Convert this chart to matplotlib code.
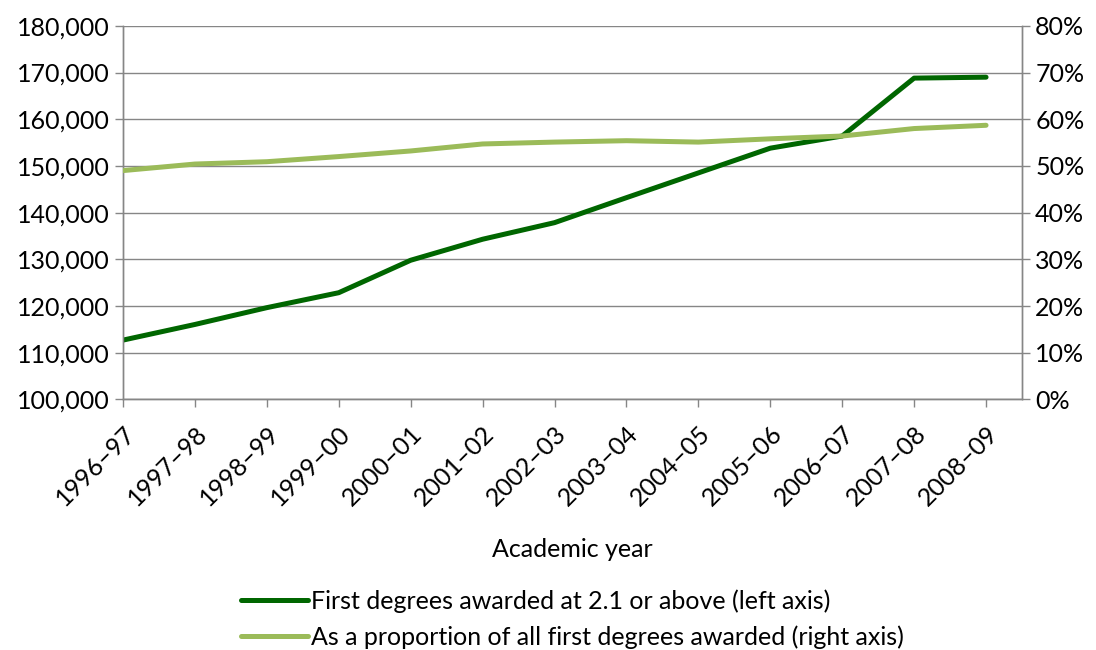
import matplotlib.pyplot as plt
from matplotlib.ticker import FuncFormatter, MultipleLocator

plt.rcParams['font.family'] = ['Lato', 'DejaVu Sans']
plt.rcParams['font.size'] = 18

years = ['1996–97', '1997–98', '1998–99', '1999–00', '2000–01', '2001–02', '2002–03',
         '2003–04', '2004–05', '2005–06', '2006–07', '2007–08', '2008–09']
degrees_21 = [112700, 116050, 119650, 122850, 129800, 134300, 137850,
              143200, 148500, 153800, 156400, 168800, 169000]
proportion = [49.0, 50.4, 50.9, 52.0, 53.2, 54.7, 55.1,
              55.4, 55.1, 55.8, 56.4, 58.0, 58.7]

dark = '#006600'
light = '#9bbb59'
grey = '#868686'

fig = plt.figure(figsize=(10.96, 6.5), dpi=100)
ax = fig.add_axes([0.1122, 0.3855, 0.8203, 0.5748])
ax2 = ax.twinx()

x = range(len(years))
l1, = ax.plot(x, degrees_21, color=dark, lw=3.6, solid_capstyle='round', zorder=3)
l2, = ax2.plot(x, proportion, color=light, lw=3.6, solid_capstyle='round', zorder=3)

ax.set_xlim(0, len(years) - 0.5)
ax.set_ylim(100000, 180000)
ax2.set_ylim(0, 80)
ax.yaxis.set_major_locator(MultipleLocator(10000))
ax2.yaxis.set_major_locator(MultipleLocator(10))
ax.yaxis.set_major_formatter(FuncFormatter(lambda v, p: f'{v:,.0f}'))
ax2.yaxis.set_major_formatter(FuncFormatter(lambda v, p: f'{v:.0f}%'))

ax.set_xticks(list(x))
ax.set_xticklabels(years, rotation=45, ha='right', rotation_mode='anchor')
ax.grid(axis='y', color=grey, lw=1)
ax.set_axisbelow(True)

for a in (ax, ax2):
    a.spines['top'].set_visible(False)
    for s in ('left', 'right', 'bottom'):
        a.spines[s].set_color(grey)
        a.spines[s].set_linewidth(1)
    a.tick_params(colors=grey, labelcolor='black', length=6, width=1, labelsize=18)
ax2.set_zorder(ax.get_zorder() + 1)
ax2.patch.set_visible(False)
ax.tick_params(axis='x', pad=10)

ax.set_xlabel('Academic year', fontsize=18, labelpad=20)

fig.legend([l1, l2],
           ['First degrees awarded at 2.1 or above (left axis)',
            'As a proportion of all first degrees awarded (right axis)'],
           loc='upper center', bbox_to_anchor=(0.522, 0.128), frameon=False,
           handlelength=2.7, handletextpad=0.1, labelspacing=0.5, fontsize=18)

fig.savefig('out.png', dpi=100)
